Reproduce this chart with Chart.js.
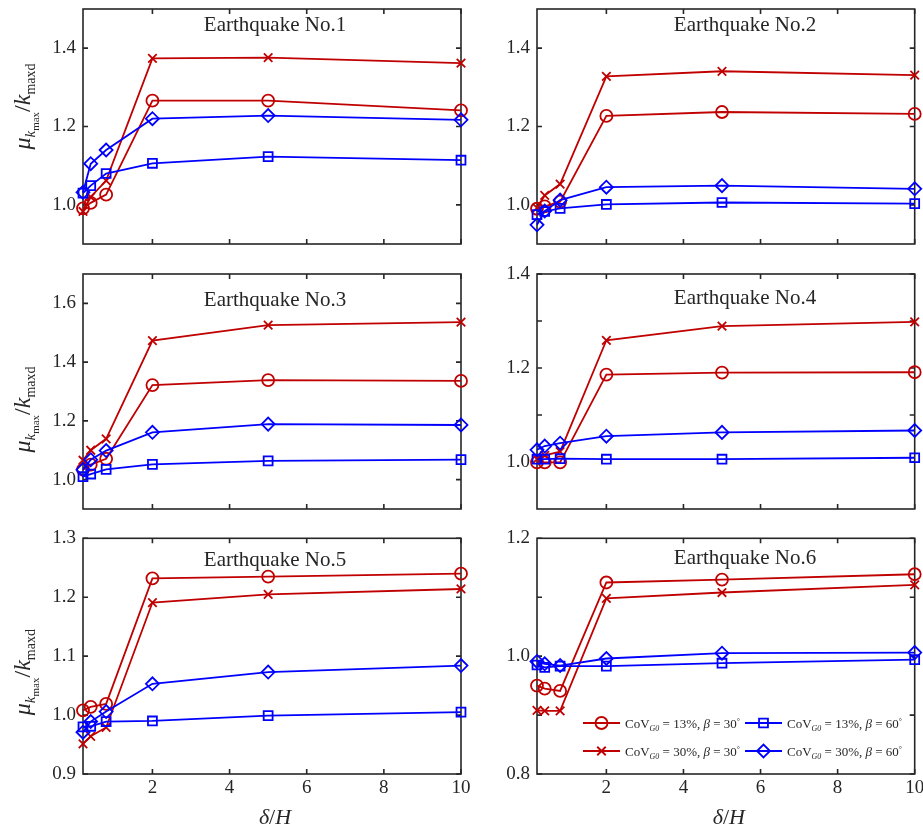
<!DOCTYPE html>
<html>
<head>
<meta charset="utf-8">
<script src="https://cdn.jsdelivr.net/npm/chart.js@4.4.1/dist/chart.umd.min.js"></script>
<style>
  body { margin: 0; background: #fff; width: 923px; height: 827px; position: relative; overflow: hidden; }
  canvas { position: absolute; }
</style>
</head>
<body>
<script>
// x positions (delta / H) and tick marks
const deltaH = [0.2, 0.4, 0.8, 2, 5, 10];
const xTicks = [2, 4, 6, 8, 10];

const titles = ["Earthquake No.1", "Earthquake No.2", "Earthquake No.3",
                "Earthquake No.4", "Earthquake No.5", "Earthquake No.6"];

// one row per earthquake
const cov13beta30 = [
  [0.991, 1.005, 1.026, 1.266, 1.266, 1.241],
  [0.990, 0.996, 1.008, 1.227, 1.237, 1.232],
  [1.034, 1.051, 1.071, 1.322, 1.339, 1.336],
  [0.999, 0.999, 0.999, 1.186, 1.190, 1.191],
  [1.008, 1.014, 1.019, 1.232, 1.235, 1.240],
  [0.950, 0.945, 0.941, 1.125, 1.130, 1.139]
];
const cov30beta30 = [
  [0.983, 1.020, 1.062, 1.374, 1.376, 1.362],
  [0.992, 1.024, 1.053, 1.328, 1.341, 1.331],
  [1.066, 1.100, 1.139, 1.473, 1.526, 1.536],
  [1.006, 1.014, 1.022, 1.259, 1.289, 1.298],
  [0.951, 0.964, 0.979, 1.191, 1.205, 1.214],
  [0.908, 0.907, 0.907, 1.098, 1.108, 1.121]
];
const cov13beta60 = [
  [1.030, 1.049, 1.080, 1.106, 1.123, 1.114],
  [0.975, 0.983, 0.991, 1.001, 1.006, 1.003],
  [1.010, 1.019, 1.035, 1.052, 1.064, 1.068],
  [1.006, 1.006, 1.007, 1.006, 1.006, 1.009],
  [0.980, 0.981, 0.989, 0.990, 0.999, 1.005],
  [0.985, 0.981, 0.983, 0.983, 0.988, 0.994]
];
const cov30beta60 = [
  [1.032, 1.105, 1.140, 1.220, 1.228, 1.217],
  [0.949, 0.984, 1.012, 1.045, 1.049, 1.041],
  [1.034, 1.068, 1.099, 1.161, 1.189, 1.186],
  [1.026, 1.034, 1.040, 1.055, 1.063, 1.067],
  [0.971, 0.989, 1.006, 1.053, 1.073, 1.084],
  [0.991, 0.987, 0.984, 0.996, 1.005, 1.006]
];

// y axis ranges and ticks per panel
const yMin = [0.9, 0.9, 0.9, 0.9, 0.9, 0.8];
const yMax = [1.5, 1.5, 1.7, 1.4, 1.3, 1.2];
const yTicks = [
  [1.0, 1.2, 1.4],
  [1.0, 1.2, 1.4],
  [1.0, 1.2, 1.4, 1.6],
  [1.0, 1.1, 1.2, 1.3, 1.4],
  [0.9, 1.0, 1.1, 1.2, 1.3],
  [0.8, 0.9, 1.0, 1.1, 1.2]
];
const yTickLabels = [
  ["1.0", "1.2", "1.4"],
  ["1.0", "1.2", "1.4"],
  ["1.0", "1.2", "1.4", "1.6"],
  ["1.0", "", "1.2", "", "1.4"],
  ["0.9", "1.0", "1.1", "1.2", "1.3"],
  ["0.8", "", "1.0", "", "1.2"]
];

const RED = "#c00000";
const BLUE = "#0000ff";
const INK = "#262626";
const SERIF = '"Liberation Serif", "Times New Roman", serif';

const series = [
  { values: cov13beta60, color: BLUE, marker: "rect", radius: 6.3, cov: "13%", beta: "60" },
  { values: cov30beta60, color: BLUE, marker: "rectRot", radius: 6.5, cov: "30%", beta: "60" },
  { values: cov13beta30, color: RED, marker: "circle", radius: 6, cov: "13%", beta: "30" },
  { values: cov30beta30, color: RED, marker: "crossRot", radius: 6, cov: "30%", beta: "30" }
];

// small layout tweaks per panel (pixels)
const titleDy = [16, 16, 26, 24, 22, 20];
const yLabelDy = [-20, 0, 18, 0, 16, 0];

function f(size, italic) {
  return (italic ? "italic " : "") + size + "px " + SERIF;
}

// draw a row of text pieces centred on x
function drawRuns(ctx, runs, x, y, align) {
  let total = 0;
  runs.forEach(r => { ctx.font = r.font; r.w = ctx.measureText(r.t).width; total += r.w; });
  let cx = align === "left" ? x : x - total / 2;
  ctx.textBaseline = "alphabetic";
  ctx.textAlign = "left";
  runs.forEach(r => {
    ctx.font = r.font;
    ctx.fillText(r.t, cx, y + (r.dy || 0));
    cx += r.w;
  });
}

function drawMarker(ctx, style, r, x, y) {
  ctx.beginPath();
  if (style === "circle") {
    ctx.arc(x, y, r, 0, Math.PI * 2);
  } else if (style === "rect") {
    const s = r * Math.SQRT1_2;
    ctx.rect(x - s, y - s, 2 * s, 2 * s);
  } else if (style === "rectRot") {
    ctx.moveTo(x - r, y); ctx.lineTo(x, y - r); ctx.lineTo(x + r, y); ctx.lineTo(x, y + r); ctx.closePath();
  } else {
    const s = r * Math.SQRT1_2;
    ctx.moveTo(x - s, y - s); ctx.lineTo(x + s, y + s);
    ctx.moveTo(x - s, y + s); ctx.lineTo(x + s, y - s);
  }
  ctx.stroke();
}

const frame = {
  id: "frame",
  beforeDatasetsDraw(chart) {
    const { ctx, chartArea: a, scales: { x, y } } = chart;
    ctx.save();
    ctx.strokeStyle = INK;
    ctx.lineWidth = 1.6;
    ctx.strokeRect(a.left, a.top, a.right - a.left, a.bottom - a.top);
    ctx.beginPath();
    x.ticks.forEach(t => {
      const px = x.getPixelForValue(t.value);
      ctx.moveTo(px, a.bottom); ctx.lineTo(px, a.bottom - 5);
      ctx.moveTo(px, a.top); ctx.lineTo(px, a.top + 5);
    });
    y.ticks.forEach(t => {
      const py = y.getPixelForValue(t.value);
      ctx.moveTo(a.left, py); ctx.lineTo(a.left + 5, py);
      ctx.moveTo(a.right, py); ctx.lineTo(a.right - 5, py);
    });
    ctx.stroke();
    ctx.restore();
  },
  afterDraw(chart, args, o) {
    const { ctx, chartArea: a } = chart;
    ctx.save();
    ctx.fillStyle = INK;
    // panel title
    ctx.font = f(21);
    ctx.textAlign = "center";
    ctx.textBaseline = "middle";
    ctx.fillText(o.title, a.left + o.titleDx, a.top + o.titleDy);

    // y axis label
    if (o.yLabel) {
      ctx.save();
      ctx.translate(22, (a.top + a.bottom) / 2 + o.yLabelDy);
      ctx.rotate(-Math.PI / 2);
      drawRuns(ctx, [
        { t: "\u03bc", font: f(24, true) },
        { t: "k", font: f(15, true), dy: 5 },
        { t: "max", font: f(11), dy: 9 },
        { t: "/", font: f(24) },
        { t: "k", font: f(24, true) },
        { t: "maxd", font: f(14), dy: 5 }
      ], 0, 8, "center");
      ctx.restore();
    }

    // x axis label
    if (o.xLabel) {
      drawRuns(ctx, [
        { t: "\u03b4", font: f(22, true) },
        { t: "/", font: f(22) },
        { t: "H", font: f(22, true) }
      ], (a.left + a.right) / 2 + 3, chart.height - 3, "center");
    }

    // legend
    if (o.legend) {
      const rowsY = [a.bottom - 51, a.bottom - 23];
      const colsX = [a.left + 46, a.left + 208];
      const order = [series[2], series[0], series[3], series[1]];
      order.forEach((s, k) => {
        const lx = colsX[k % 2], ly = rowsY[Math.floor(k / 2)];
        ctx.strokeStyle = s.color;
        ctx.lineWidth = 1.8;
        ctx.beginPath();
        ctx.moveTo(lx, ly); ctx.lineTo(lx + 37, ly);
        ctx.stroke();
        drawMarker(ctx, s.marker, s.radius, lx + 18.5, ly);
        ctx.fillStyle = INK;
        drawRuns(ctx, [
          { t: "CoV", font: f(13) },
          { t: "G0", font: f(8, true), dy: 3 },
          { t: " = " + s.cov + ", ", font: f(13) },
          { t: "\u03b2", font: f(13, true) },
          { t: " = " + s.beta, font: f(13) },
          { t: "\u00b0", font: f(8), dy: -4 }
        ], lx + 42, ly + 4.5, "left");
      });
    }
    ctx.restore();
  }
};

function makeChart(i) {
  const col = i % 2, row = Math.floor(i / 2);
  const left = col ? 470 : 0, width = col ? 453 : 480;
  const top = [0, 265, 530][row], height = row === 2 ? 297 : 265;
  const plotL = col ? 537 : 83, plotR = col ? 915 : 461;
  const plotT = [9, 274, 538][row], plotB = [244, 509, 774][row];
  const bottomRow = row === 2;

  const cv = document.createElement("canvas");
  cv.width = width; cv.height = height;
  cv.style.left = left + "px"; cv.style.top = top + "px";
  cv.style.width = width + "px"; cv.style.height = height + "px";
  document.body.appendChild(cv);

  new Chart(cv, {
    type: "line",
    data: {
      datasets: series.map(s => ({
        data: deltaH.map((x, k) => ({ x: x, y: s.values[i][k] })),
        borderColor: s.color,
        borderWidth: 1.8,
        pointStyle: s.marker,
        pointRadius: s.radius,
        pointBorderWidth: 1.8,
        pointBorderColor: s.color,
        pointBackgroundColor: "rgba(0,0,0,0)",
        tension: 0,
        clip: false
      }))
    },
    options: {
      responsive: false,
      animation: false,
      devicePixelRatio: 1,
      events: [],
      layout: { padding: { left: 0, top: plotT - top, right: left + width - plotR, bottom: 0 } },
      plugins: {
        legend: { display: false },
        tooltip: { enabled: false },
        frame: {
          title: titles[i],
          titleDx: col ? 208 : 192,
          titleDy: titleDy[i],
          yLabel: col === 0,
          yLabelDy: yLabelDy[i],
          xLabel: bottomRow,
          legend: i === 5
        }
      },
      scales: {
        x: {
          type: "linear", min: 0.2, max: 10,
          grid: { display: false, drawTicks: false },
          border: { display: false },
          afterBuildTicks: s => { s.ticks = xTicks.map(v => ({ value: v })); },
          afterFit: s => { s.height = top + height - plotB; s.paddingLeft = 0; s.paddingRight = 0; },
          ticks: {
            display: bottomRow, padding: 3, maxRotation: 0, autoSkip: false,
            color: INK, font: { family: SERIF, size: 19 },
            callback: v => String(v)
          }
        },
        y: {
          type: "linear", min: yMin[i], max: yMax[i],
          grid: { display: false, drawTicks: false },
          border: { display: false },
          afterBuildTicks: s => { s.ticks = yTicks[i].map(v => ({ value: v })); },
          afterFit: s => { s.width = plotL - left; s.paddingTop = 0; s.paddingBottom = 0; },
          ticks: {
            padding: 7, autoSkip: false,
            color: INK, font: { family: SERIF, size: 19 },
            callback: (v, k) => yTickLabels[i][k]
          }
        }
      }
    },
    plugins: [frame]
  });
}

for (let i = 0; i < 6; i++) makeChart(i);
</script>
</body>
</html>
